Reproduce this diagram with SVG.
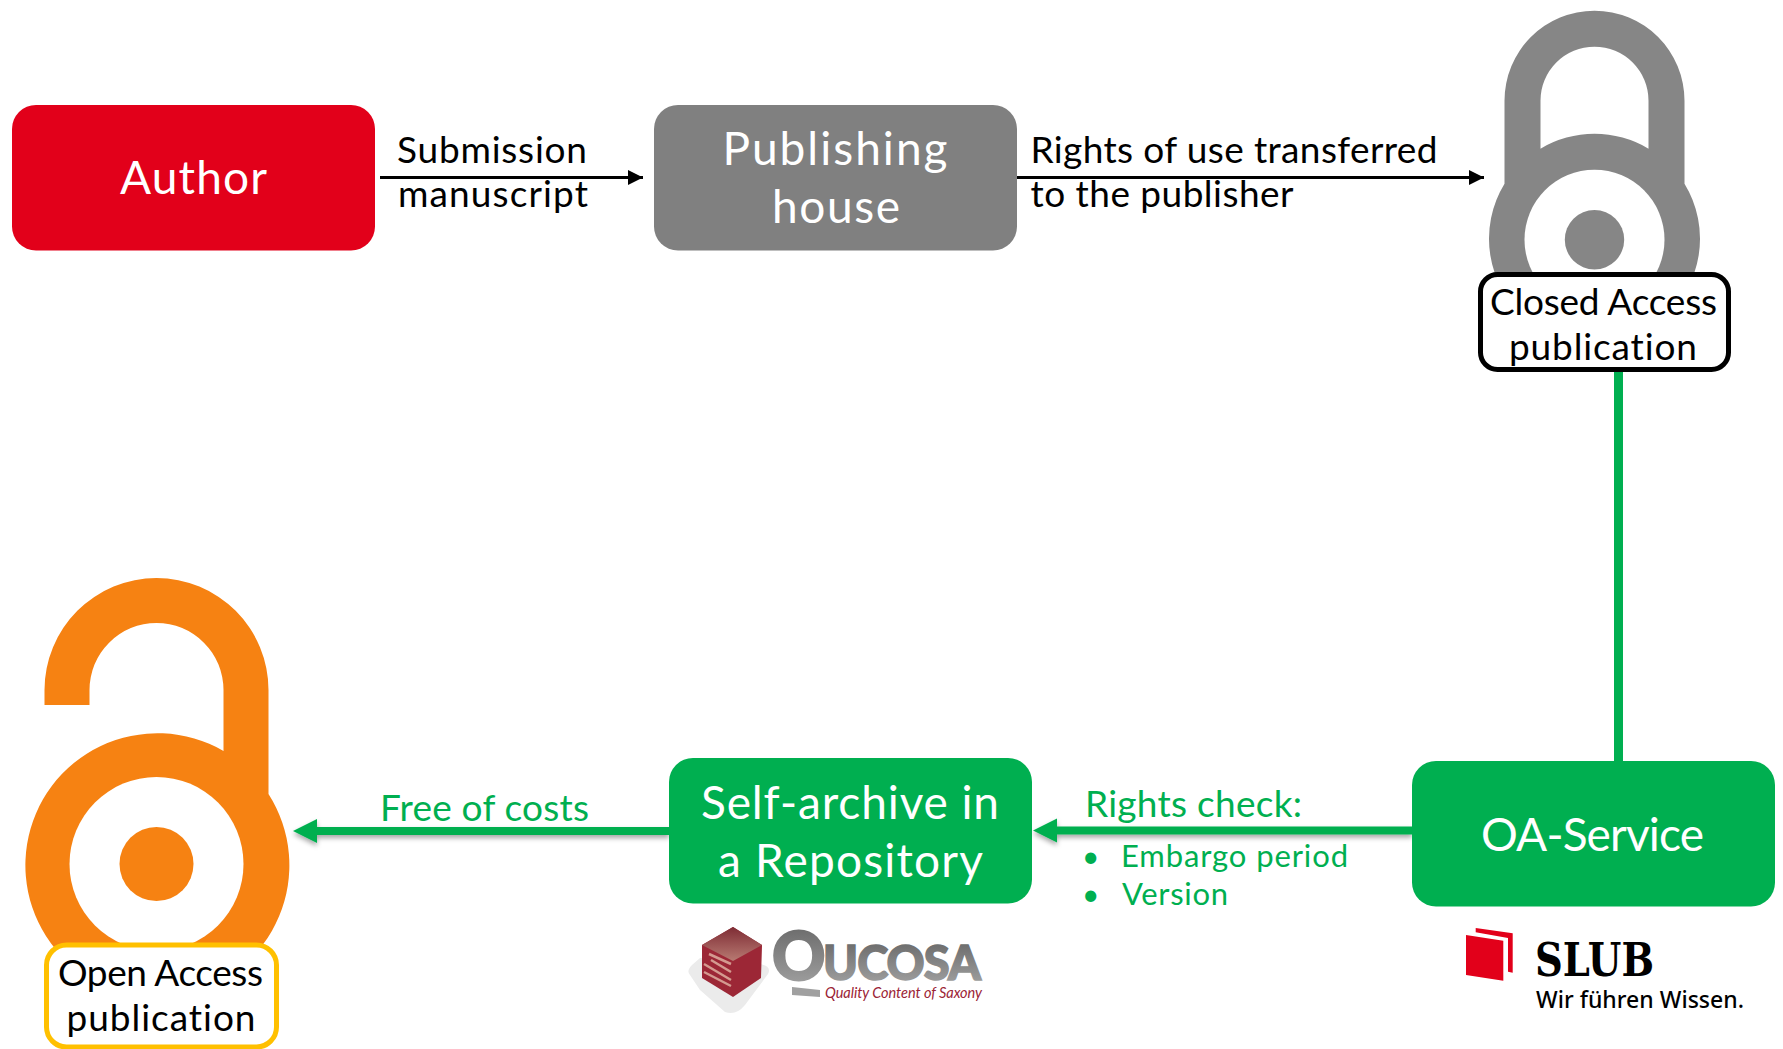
<svg xmlns="http://www.w3.org/2000/svg" width="1783" height="1049" viewBox="0 0 1783 1049">
<style>
text{font-family:"Lato","Open Sans","Liberation Sans",sans-serif;fill:#000;font-variant-ligatures:none}
.big{font-size:46px;fill:#fff}
.lab{font-size:37px}
.grn{fill:#00AF50}
.wire{stroke:#000;stroke-width:3;fill:none}
.gw{stroke:#00AF50;stroke-width:8;fill:none}
.gray{fill:#868686}.org{fill:#F68212}
</style>
<defs>
<marker id="ah" markerUnits="userSpaceOnUse" markerWidth="16" markerHeight="16" refX="15" refY="8" orient="auto"><path d="M0 0.5L15 8L0 15.5Z" fill="#000"/></marker>
<filter id="sh" x="-5%" y="-100%" width="110%" height="300%"><feDropShadow dx="0" dy="3" stdDeviation="2.5" flood-color="#000" flood-opacity=".35"/></filter>
<linearGradient id="og" x1="0" y1="0" x2="0" y2="1"><stop offset="0" stop-color="#626262"/><stop offset="1" stop-color="#a6a6a6"/></linearGradient>
<linearGradient id="cb" x1="0" y1="0" x2="0" y2="1"><stop offset="0" stop-color="#7e2c34"/><stop offset="1" stop-color="#b87a72"/></linearGradient>
</defs>
<g id="closed-lock" transform="translate(.5 .7)">
<path class="gray" fill-rule="evenodd" d="M1504 183V100A90 90 0 0 1 1684 100V183A105.500 105.500 0 1 1 1504 183ZM1540 148A105.500 105.500 0 0 1 1648 148V100A54 54 0 0 0 1540 100Z"/>
<circle cx="1594" cy="239" r="70" fill="#fff"/><circle class="gray" cx="1594" cy="239" r="29.700"/>
</g>
<g id="open-lock" transform="translate(-.5 1)">
<path class="org" d="M45 704V689A112 112 0 0 1 269 689V793A132 132 0 1 1 224 750V689A67 67 0 0 0 90 689V704Z"/>
<circle cx="157" cy="863" r="87" fill="#fff"/><circle class="org" cx="157" cy="863" r="37"/>
</g>
<g id="connectors">
<path class="wire" d="M380 177.500H643" marker-end="url(#ah)"/>
<path class="wire" d="M1017 177.500H1484" marker-end="url(#ah)"/>
<path d="M1618.500 371V761" stroke="#00AF50" stroke-width="9" fill="none"/>
<g filter="url(#sh)"><path class="gw" d="M1412 830.500H1055"/><path class="grn" d="M1033 830.500L1057 818.500V842.500Z"/></g>
<g filter="url(#sh)"><path class="gw" d="M669 831H315"/><path class="grn" d="M293 831L317 819V843Z"/></g>
</g>
<g id="author"><rect x="12" y="105" width="363" height="145.500" rx="24" fill="#E2001A"/>
<text class="big" x="120" y="194" textLength="147">Author</text></g>
<g id="publishing-house"><rect x="654" y="105" width="363" height="145.500" rx="24" fill="#808080"/>
<text class="big" x="722.500" y="165" textLength="225">Publishing</text><text class="big" x="772" y="223" textLength="128">house</text></g>
<g id="self-archive"><rect x="669" y="758" width="363" height="145.500" rx="24" fill="#00AF50"/>
<text class="big" x="701" y="819" textLength="298">Self-archive in</text><text class="big" x="718" y="877" textLength="265">a Repository</text></g>
<g id="oa-service"><rect x="1412" y="761" width="363" height="145.500" rx="24" fill="#00AF50"/>
<text class="big" x="1481" y="851" textLength="223">OA-Service</text></g>
<g id="closed-label"><rect x="1480.500" y="274.500" width="248" height="95" rx="17" fill="#fff" stroke="#000" stroke-width="5"/>
<text class="lab" x="1490" y="315" textLength="227">Closed Access</text><text class="lab" x="1509" y="360" textLength="188">publication</text></g>
<g id="open-label"><rect x="46.500" y="945" width="230" height="102" rx="20" fill="#fff" stroke="#FFC000" stroke-width="5"/>
<text class="lab" x="58" y="986" textLength="205">Open Access</text><text class="lab" x="66.500" y="1031" textLength="189">publication</text></g>
<g id="edge-labels">
<text class="lab" x="397" y="163" textLength="190">Submission</text>
<text class="lab" x="398" y="207" textLength="190">manuscript</text>
<text class="lab" x="1030.500" y="163" textLength="407">Rights of use transferred</text>
<text class="lab" x="1030.500" y="207" textLength="263">to the publisher</text>
<text class="lab grn" x="380" y="821" textLength="209">Free of costs</text>
<text class="lab grn" x="1085" y="817" textLength="217">Rights check:</text>
<text class="grn" x="1082" y="867" font-size="30">•</text>
<text class="grn" x="1121" y="867" font-size="31" textLength="227">Embargo period</text>
<text class="grn" x="1082" y="905" font-size="30">•</text>
<text class="grn" x="1122" y="905" font-size="31" textLength="106">Version</text>
</g>
<g id="oucosa-logo">
<path d="M690 975Q686 971 692 965L700 958L760 964Q772 966 768 974L745 1005Q736 1016 725 1012L700 990Z" fill="#ebebeb"/>
<path d="M702 945L733 927L762 945L761 978L733 997L702 978Z" fill="#9c2736"/>
<path d="M702 945L733 927L762 945L733 961Z" fill="url(#cb)"/>
<path d="M709 954L731 964M711 960L731 972M704 964L731 980M704 972L731 986" stroke="#d49a90" stroke-width="2.500" fill="none"/>
<text x="772" y="980" font-size="66" font-weight="900" style="fill:url(#og);stroke:url(#og);stroke-width:2" textLength="50">O</text>
<text x="823" y="980" font-size="47" font-weight="900" style="fill:url(#og);stroke:url(#og);stroke-width:1.500" textLength="158">UCOSA</text>
<path d="M792 987L820 990V997L792 995Z" fill="#a0a0a0"/>
<text x="825" y="998" font-size="14.500" font-style="italic" style="fill:#9b2335" textLength="157">Quality Content of Saxony</text>
</g>
<g id="slub-logo">
<path d="M1466 935L1503.300 940.700V980.700L1466 975Z" fill="#E2001A"/>
<path d="M1475.700 928L1512.700 933.300V972.700L1508 971.700V938L1475.700 932.300Z" fill="#E2001A"/>
<text x="1535" y="976" font-size="47" font-weight="700" style="font-family:'DejaVu Serif',serif" textLength="119" lengthAdjust="spacingAndGlyphs">SLUB</text>
<text x="1536" y="1008" font-size="23" font-weight="500" style="font-family:'Noto Sans',sans-serif" textLength="208">Wir führen Wissen.</text>
</g>
</svg>
